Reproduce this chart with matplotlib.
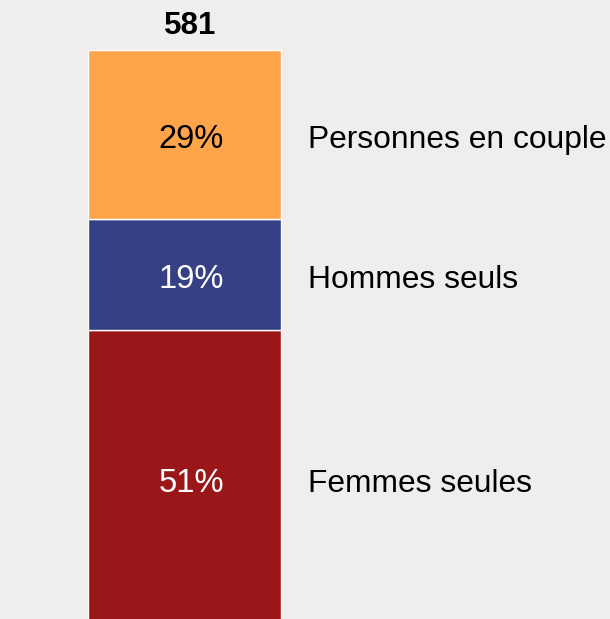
import matplotlib.pyplot as plt
import numpy as np

plt.rcParams['font.family'] = ['Liberation Sans', 'DejaVu Sans']

categories = ['Femmes seules', 'Hommes seuls', 'Personnes en couple']
shares = [51, 19, 29]
colors = ['#9b1618', '#354086', '#fea54c']
text_colors = ['white', 'white', 'black']
total = 581

fig = plt.figure(figsize=(6.10, 6.19), dpi=100)
fig.patch.set_facecolor('#efeeec')
ax = fig.add_axes([0, 0, 1, 1])
ax.set_facecolor('#efeeec')

bottom = 0
for cat, v, c, tc in zip(categories, shares, colors, text_colors):
    ax.bar(0, v, width=1, bottom=bottom, color=c, edgecolor='white', linewidth=1)
    mid = bottom + v / 2 - 0.9
    ax.text(0.036, mid, f'{v}%', ha='center', va='center', fontsize=23.5, color=tc)
    ax.text(0.64, mid, cat, ha='left', va='center', fontsize=22.9, color='black')
    bottom += v

ax.text(0.03, bottom + 1.6, str(total), ha='center', va='bottom', fontsize=22.5,
        fontweight='bold', color='black')

ax.set_xlim(-0.956, 2.205)
ax.set_ylim(1.4, 107.6)
ax.axis('off')

fig.savefig('out.png', dpi=100, facecolor=fig.get_facecolor())
